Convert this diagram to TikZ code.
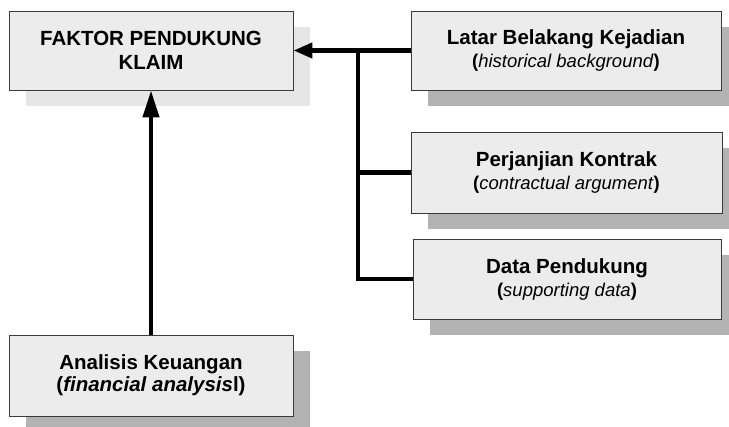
\documentclass[tikz,border=0pt]{standalone}
\usepackage{fontspec}
\setmainfont{Liberation Sans}
\usetikzlibrary{arrows.meta,shadows}
\definecolor{boxfill}{HTML}{ECECEC}
\definecolor{boxline}{HTML}{3A3A3A}
\definecolor{shdark}{HTML}{B3B3B3}
\definecolor{shlight}{HTML}{E6E6E6}
\tikzset{
  card/.style={draw=boxline, line width=0.9pt, fill=boxfill, align=center,
    inner sep=0pt, font=\fontsize{20.5}{23}\selectfont},
  darkshadow/.style={drop shadow={shadow xshift=17pt, shadow yshift=-16pt,
    fill=shdark, opacity=1, shadow scale=1}},
  lightshadow/.style={drop shadow={shadow xshift=17pt, shadow yshift=-16pt,
    fill=shlight, opacity=1, shadow scale=1}},
  conn/.style={line width=4.5pt, black},
  vtip/.style={-{Triangle[length=27pt,width=16pt]}},
  htip/.style={-{Triangle[length=19pt,width=15pt]}},
}
\newcommand{\sub}[1]{{\fontsize{18.5}{23}\selectfont\textbf{(}\textit{#1}\textbf{)}}}
\begin{document}
\begin{tikzpicture}[x=1pt,y=-1pt]
\useasboundingbox (0,0) rectangle (729,427);
\node[card, lightshadow, minimum width=284pt, minimum height=79pt] (faktor) at (151,50.5)
  {\textbf{FAKTOR PENDUKUNG}\\[1pt]\textbf{KLAIM}};
\node[card, darkshadow, minimum width=310pt, minimum height=79pt] (latar) at (566,50.5)
  {\textbf{Latar Belakang Kejadian}\\\sub{historical background}};
\node[card, darkshadow, minimum width=311pt, minimum height=81pt] (perj) at (566.5,172.5)
  {\textbf{Perjanjian Kontrak}\\\sub{contractual argument}};
\node[card, darkshadow, minimum width=308pt, minimum height=80pt] (data) at (567,279)
  {\textbf{Data Pendukung}\\\sub{supporting data}};
\node[card, darkshadow, minimum width=284pt, minimum height=81pt] (anal) at (151,375.5)
  {\textbf{Analisis Keuangan}\\[-1pt]\textbf{(\textit{financial analysis}l)}};
\coordinate (bt) at (358,50.5);
\draw[conn, htip] (latar.west) -- (faktor.east);
\draw[conn] (bt) -- (bt |- data.west) -- (data.west);
\draw[conn] (bt |- perj.west) -- (perj.west);
\draw[conn, vtip] (anal.north) -- (faktor.south);
\end{tikzpicture}
\end{document}
